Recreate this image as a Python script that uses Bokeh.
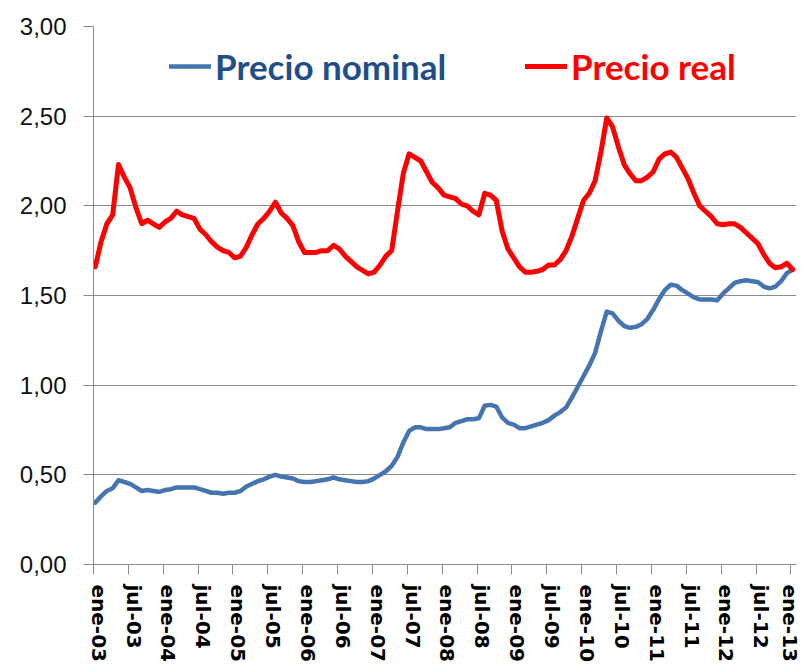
from bokeh.plotting import figure
from bokeh.models import (Range1d, FixedTicker, CustomJSTickFormatter, Legend,
                          LegendItem, ColumnDataSource)
from bokeh.embed import file_html
from bokeh.resources import INLINE

# ---- data (monthly, ene-03 .. ene-13) ----
months = list(range(121))

precio_nominal = [
    0.345, 0.38, 0.41, 0.425, 0.47, 0.46, 0.45, 0.43, 0.41, 0.415,
    0.41, 0.405, 0.415, 0.42, 0.43, 0.43, 0.43, 0.43, 0.42, 0.41,
    0.40, 0.40, 0.395, 0.40, 0.40, 0.41, 0.435, 0.45, 0.465, 0.475,
    0.49, 0.50, 0.49, 0.485, 0.48, 0.465, 0.46, 0.46, 0.465, 0.47,
    0.475, 0.485, 0.475, 0.47, 0.465, 0.46, 0.46, 0.465, 0.48, 0.50,
    0.52, 0.55, 0.60, 0.68, 0.745, 0.765, 0.765, 0.755, 0.755, 0.755,
    0.76, 0.765, 0.79, 0.80, 0.81, 0.81, 0.815, 0.885, 0.89, 0.88,
    0.82, 0.79, 0.78, 0.76, 0.76, 0.77, 0.78, 0.79, 0.805, 0.83,
    0.85, 0.875, 0.93, 0.99, 1.05, 1.11, 1.18, 1.30, 1.41, 1.40,
    1.36, 1.33, 1.32, 1.325, 1.34, 1.37, 1.42, 1.48, 1.53, 1.56,
    1.555, 1.53, 1.51, 1.49, 1.478, 1.478, 1.478, 1.473, 1.51, 1.54,
    1.57, 1.58, 1.585, 1.58, 1.575, 1.55, 1.54, 1.55, 1.58, 1.625,
    1.645,
]

precio_real = [
    1.66, 1.80, 1.90, 1.95, 2.23, 2.16, 2.10, 1.99, 1.90, 1.92,
    1.90, 1.88, 1.91, 1.93, 1.97, 1.95, 1.94, 1.93, 1.87, 1.84,
    1.80, 1.77, 1.75, 1.74, 1.71, 1.72, 1.77, 1.84, 1.90, 1.93,
    1.97, 2.02, 1.96, 1.93, 1.89, 1.80, 1.74, 1.74, 1.74, 1.75,
    1.75, 1.78, 1.76, 1.72, 1.69, 1.66, 1.64, 1.62, 1.63, 1.67,
    1.72, 1.75, 1.97, 2.18, 2.29, 2.27, 2.25, 2.19, 2.13, 2.10,
    2.06, 2.05, 2.04, 2.01, 2.00, 1.97, 1.95, 2.07, 2.06, 2.03,
    1.86, 1.76, 1.71, 1.66, 1.63, 1.63, 1.635, 1.645, 1.67, 1.67,
    1.70, 1.75, 1.83, 1.93, 2.03, 2.07, 2.14, 2.30, 2.49, 2.44,
    2.33, 2.23, 2.18, 2.14, 2.14, 2.16, 2.19, 2.26, 2.29, 2.30,
    2.27, 2.21, 2.15, 2.07, 2.00, 1.97, 1.94, 1.90, 1.895, 1.90,
    1.90, 1.88, 1.85, 1.82, 1.79, 1.73, 1.68, 1.655, 1.66, 1.68,
    1.645,
]

x_tick_labels = ["ene-03", "jul-03", "ene-04", "jul-04", "ene-05", "jul-05",
                 "ene-06", "jul-06", "ene-07", "jul-07", "ene-08", "jul-08",
                 "ene-09", "jul-09", "ene-10", "jul-10", "ene-11", "jul-11",
                 "ene-12", "jul-12", "ene-13"]
y_ticks = [0.0, 0.5, 1.0, 1.5, 2.0, 2.5, 3.0]

series_names = ["Precio nominal", "Precio real"]

BLUE = "#4574B0"
BLUE_TEXT = "#1F4E89"
RED = "#FF0000"
GRID = "#8C8C8C"

p = figure(width=801, height=670, output_backend="svg", toolbar_location=None,
           x_range=Range1d(-0.3, 120.65), y_range=Range1d(0, 3),
           min_border_left=93, min_border_right=5, min_border_top=26,
           min_border_bottom=106)
p.outline_line_color = None
p.background_fill_color = "white"
p.border_fill_color = "white"

src = ColumnDataSource(dict(m=months, nominal=precio_nominal, real=precio_real))
r_nom = p.line("m", "nominal", source=src, line_color=BLUE, line_width=4.5,
               line_join="round", line_cap="round")
r_real = p.line("m", "real", source=src, line_color=RED, line_width=5,
                line_join="round", line_cap="round")

# ---- x axis ----
xa = p.xaxis[0]
n = len(x_tick_labels)
xa.ticker = FixedTicker(ticks=[6 * k + 0.6 for k in range(n)],
                        minor_ticks=[6 * k - 0.3 for k in range(n)])
xa.formatter = CustomJSTickFormatter(args=dict(labels=x_tick_labels),
                                     code="return labels[Math.round((tick - 0.6) / 6)];")
xa.major_tick_line_color = None
xa.major_tick_out = 10
xa.major_tick_in = 0
xa.minor_tick_out = 10
xa.minor_tick_in = 0
xa.minor_tick_line_color = GRID
xa.axis_line_color = GRID
xa.major_label_orientation = "vertical"
xa.major_label_standoff = 10
xa.major_label_text_font = "DejaVu Sans"
xa.major_label_text_font_style = "bold"
xa.major_label_text_font_size = "20px"
xa.major_label_text_color = "#000000"

# ---- y axis ----
ya = p.yaxis[0]
ya.ticker = FixedTicker(ticks=y_ticks)
ya.formatter = CustomJSTickFormatter(code="return tick.toFixed(2).replace('.', ',');")
ya.major_tick_out = 10
ya.major_tick_in = 0
ya.minor_tick_line_color = None
ya.major_tick_line_color = GRID
ya.axis_line_color = GRID
ya.major_label_standoff = 17
ya.major_label_text_font = "Liberation Sans"
ya.major_label_text_font_size = "24px"
ya.major_label_text_color = "#111111"

p.xgrid.grid_line_color = None
p.ygrid.ticker = FixedTicker(ticks=y_ticks)
p.ygrid.grid_line_color = GRID
p.ygrid.grid_line_width = 1

# ---- legends ----
def make_legend(name, renderer, color, loc):
    return Legend(items=[LegendItem(label=name, renderers=[renderer])],
                  location=loc, orientation="horizontal",
                  label_text_font="Lato",
                  label_text_font_style="bold",
                  label_text_font_size="35px",
                  label_text_color=color,
                  glyph_width=42, glyph_height=40, label_standoff=4,
                  padding=0, margin=0, spacing=0,
                  border_line_color=None, background_fill_alpha=0)

p.add_layout(make_legend(series_names[0], r_nom, BLUE_TEXT, (76, 477)))
p.add_layout(make_legend(series_names[1], r_real, RED, (432, 477)))

open("out.html", "w").write(file_html(p, INLINE))
